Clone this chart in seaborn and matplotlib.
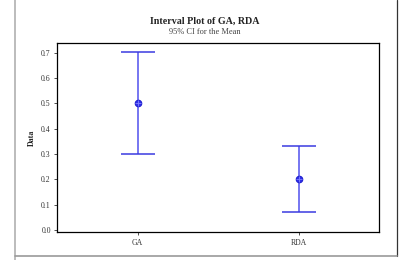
import matplotlib
matplotlib.use("Agg")
import matplotlib.pyplot as plt
import seaborn as sns
import pandas as pd
from matplotlib.lines import Line2D

categories = ["GA", "RDA"]
means = [0.50, 0.20]
lower = [0.30, 0.07]
upper = [0.703, 0.330]
yticks = [0.0, 0.1, 0.2, 0.3, 0.4, 0.5, 0.6, 0.7]

sns.set_theme(style="white")
plt.rcParams['font.family'] = ['Liberation Serif', 'DejaVu Serif']

df = pd.DataFrame({"cat": categories, "mean": means, "lo": lower, "hi": upper})

fig = plt.figure(figsize=(4.07, 2.60), dpi=100)
ax = fig.add_axes([57/407, 1 - 232/260, (379-57)/407, (232-43)/260])

pos = list(range(len(categories)))
ax.vlines(pos, df["lo"], df["hi"], color="#6b6bf0", lw=1.3, zorder=2)
ax.errorbar(pos, df["mean"], yerr=[df["mean"] - df["lo"], df["hi"] - df["mean"]],
            fmt="none", ecolor="#3a3ae0", elinewidth=0, capsize=12, capthick=1.1, zorder=3)
sns.scatterplot(x=pos, y=df["mean"], ax=ax, s=22, color="#3030e8", edgecolor="#2020d0",
                linewidth=0.8, zorder=4, legend=False)
sns.scatterplot(x=pos, y=df["mean"], ax=ax, s=16, marker="+", color="#8080ff",
                linewidth=0.6, zorder=5, legend=False)

ax.set_xlim(-0.5, 1.5)
ax.set_ylim(-0.008, 0.738)
ax.set_xticks(pos)
ax.set_xticklabels(categories)
ax.set_yticks(yticks)
ax.set_yticklabels([f"{v:.1f}" for v in yticks])
ax.tick_params(axis="both", labelsize=5.6, colors="#333333", length=2.5, width=0.6,
               direction="out", pad=2)
ax.tick_params(axis="x", length=2, pad=3)
ax.yaxis.set_ticks_position("left")
ax.xaxis.set_ticks_position("bottom")
for s in ax.spines.values():
    s.set_linewidth(0.9)
    s.set_color("black")
ax.set_xlabel("")
ax.set_ylabel("Data", fontsize=5.8, fontweight="bold", labelpad=4)

fig.text(205/407, 1 - 21/260, "Interval Plot of GA, RDA", ha="center", va="center",
         fontsize=7.2, fontweight="bold", color="#222222")
fig.text(205/407, 1 - 32/260, "95% CI for the Mean", ha="center", va="center",
         fontsize=6.0, color="#444444")

fig.add_artist(Line2D([15/407, 15/407], [0, 1], transform=fig.transFigure, color="#b0b0b0", lw=1.2))
fig.add_artist(Line2D([397/407, 397/407], [1 - 256/260, 1], transform=fig.transFigure, color="#333333", lw=0.9))
fig.add_artist(Line2D([15/407, 397/407], [1 - 256/260, 1 - 256/260], transform=fig.transFigure, color="#999999", lw=1.2))

fig.savefig("out.png", dpi=100)
